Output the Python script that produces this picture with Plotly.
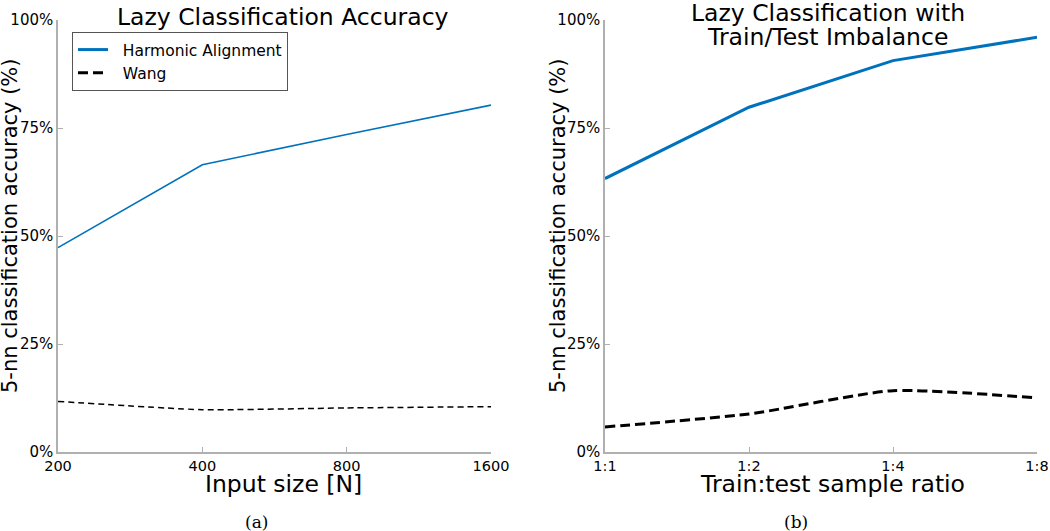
import plotly.graph_objects as go

# Data
input_sizes = ["200", "400", "800", "1600"]
ha_input = [47.3, 66.5, 73.5, 80.3]
wang_input = [11.7, 9.8, 10.2, 10.5]

ratios = ["1:1", "1:2", "1:4", "1:8"]
ha_ratio = [63.3, 79.8, 90.6, 96.0]
wang_ratio = [5.8, 8.8, 14.2, 12.5]

y_ticks = [0, 25, 50, 75, 100]
y_ticklabels = ["0%", "25%", "50%", "75%", "100%"]

series_names = ["Harmonic Alignment", "Wang"]

BLUE = "#0072BD"
FONT = "DejaVu Sans"
AXC = "#b0b0b0"

W, H = 1050, 531


def px(x):
    return x / W


def py(y):
    return (H - y) / H


NB = "\u00a0\u00a0"

fig = go.Figure()
fig.add_trace(go.Scatter(x=input_sizes, y=ha_input, mode="lines", name=series_names[0],
                         line=dict(color=BLUE, width=1.6), xaxis="x", yaxis="y", showlegend=False))
fig.add_trace(go.Scatter(x=input_sizes, y=wang_input, mode="lines", name=series_names[1],
                         line=dict(color="black", width=1.5, dash="6px,4px", shape="spline", smoothing=0.5),
                         xaxis="x", yaxis="y", showlegend=False))
fig.add_trace(go.Scatter(x=ratios, y=ha_ratio, mode="lines", name=NB + series_names[0],
                         line=dict(color=BLUE, width=3), xaxis="x2", yaxis="y2"))
fig.add_trace(go.Scatter(x=ratios, y=wang_ratio, mode="lines", name=NB + series_names[1],
                         line=dict(color="black", width=3, dash="10px,5px", shape="spline", smoothing=0.6),
                         xaxis="x2", yaxis="y2"))

yd = [py(452), py(20)]


def xax(x0, x1, anchor):
    return dict(domain=[px(x0), px(x1)], type="category", range=[0, 3], showline=True, linecolor=AXC,
                linewidth=1.5, ticks="inside", ticklen=5, tickcolor=AXC, showgrid=False, zeroline=False,
                tickfont=dict(family=FONT, size=14.5, color="black"), automargin=False, anchor=anchor)


def yax(anchor):
    return dict(domain=yd, range=[0, 100], tickvals=y_ticks, ticktext=y_ticklabels, showline=True,
                linecolor=AXC, linewidth=1.5, ticks="inside", ticklen=5, tickcolor=AXC, showgrid=False,
                zeroline=False, tickfont=dict(family=FONT, size=15, color="black"), anchor=anchor,
                automargin=False)


def note(text, x, y, size, family=FONT, angle=0):
    return dict(text=text, x=px(x), y=py(y), xref="paper", yref="paper", showarrow=False,
                xanchor="center", yanchor="middle", textangle=angle,
                font=dict(family=family, size=size, color="black"))


fig.update_layout(
    width=W, height=H, margin=dict(l=0, r=0, t=0, b=0, autoexpand=False),
    paper_bgcolor="white", plot_bgcolor="white",
    xaxis=xax(58, 491, "y"), yaxis=yax("x"),
    xaxis2=xax(605, 1037, "y2"), yaxis2=yax("x2"),
    legend=dict(x=px(72), y=py(32), xanchor="left", yanchor="top", bgcolor="white",
                bordercolor="#555555", borderwidth=1, font=dict(family=FONT, size=15.5, color="black"),
                tracegroupgap=0),
    showlegend=True,
    annotations=[
        note("Lazy Classification Accuracy", 283, 17, 23.5),
        note("Lazy Classification with", 828, 13, 23.5),
        note("Train/Test Imbalance", 827, 37, 23.5),
        note("Input size [N]", 283, 484, 23.5),
        note("Train:test sample ratio", 832, 484, 23.5),
        note("5-nn classification accuracy (%)", 10, 226, 21, angle=-90),
        note("5-nn classification accuracy (%)", 558, 226, 21, angle=-90),
        note("(a)", 256, 522, 17, family="DejaVu Serif"),
        note("(b)", 796, 522, 17, family="DejaVu Serif"),
    ],
)

fig.write_html("out.html", config={"displayModeBar": False},
               post_script="document.body.style.margin='0';document.body.style.overflow='hidden';")
